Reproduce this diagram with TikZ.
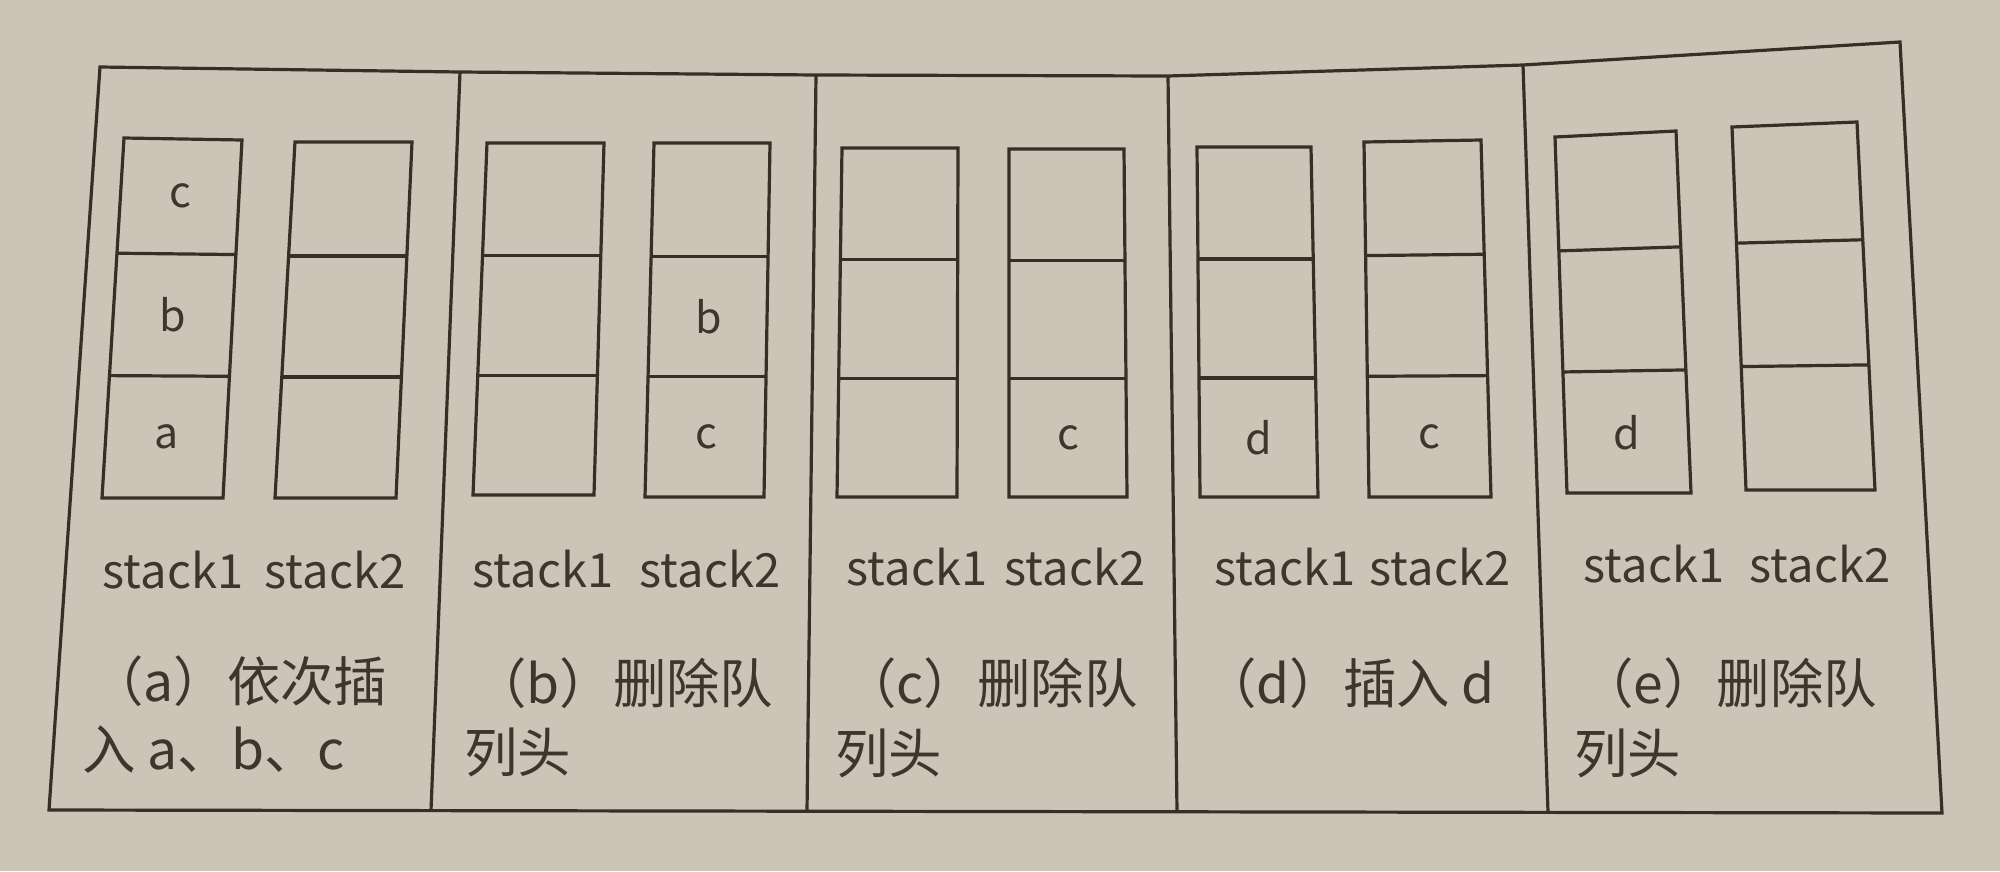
\documentclass[tikz,border=0pt]{standalone}
\usepackage{fontspec}
\usetikzlibrary{calc}
\newfontfamily\cjk{Noto Sans CJK SC}
\definecolor{paper}{RGB}{204,197,183}
\definecolor{ink}{RGB}{55,46,38}
\definecolor{txt}{RGB}{62,53,44}
\tikzset{
  frame/.style={draw=ink, line width=1.6mm, line join=miter},
  cell/.style={inner sep=0pt, text=txt, font=\cjk\fontsize{61}{61}\selectfont},
  lbl/.style={inner sep=0pt, text=txt, font=\cjk\fontsize{67}{67}\selectfont},
  captext/.style={inner sep=0pt, anchor=west, text=txt, font=\cjk\fontsize{76}{76}\selectfont},
}
\newcommand\qbox[5]{%
  \coordinate (#1-tl) at #2; \coordinate (#1-tr) at #3;
  \coordinate (#1-br) at #4; \coordinate (#1-bl) at #5;
  \coordinate (#1-l1) at ($(#1-tl)!0.32!(#1-bl)$);
  \coordinate (#1-r1) at ($(#1-tr)!0.32!(#1-br)$);
  \coordinate (#1-l2) at ($(#1-tl)!0.66!(#1-bl)$);
  \coordinate (#1-r2) at ($(#1-tr)!0.66!(#1-br)$);
  \draw[frame] (#1-tl) -- (#1-tr) -- (#1-br) -- (#1-bl) -- cycle;
  \draw[frame] (#1-l1) -- (#1-r1);
  \draw[frame] (#1-l2) -- (#1-r2);
  \coordinate (#1-c1) at ($(#1-tl)!0.5!(#1-r1)$);
  \coordinate (#1-c2) at ($(#1-l1)!0.5!(#1-r2)$);
  \coordinate (#1-c3) at ($(#1-l2)!0.5!(#1-br)$);
}
\begin{document}
\begin{tikzpicture}[x=0.5mm,y=-0.5mm]
\fill[paper] (0,0) rectangle (2000,871);
\useasboundingbox (0,0) rectangle (2000,871);

% outer frame
\coordinate (o-tl) at (100,67);
\coordinate (t1) at (460,72);
\coordinate (t2) at (816,75);
\coordinate (t3) at (1168,76);
\coordinate (t4) at (1523,65);
\coordinate (o-tr) at (1900,42);
\coordinate (o-br) at (1942,813);
\coordinate (o-bl) at (49,810);
\coordinate (b1) at (431,810.6);
\coordinate (b2) at (807,811.2);
\coordinate (b3) at (1177,811.8);
\coordinate (b4) at (1548,812.4);
\draw[frame] (o-tl) -- (t1) -- (t2) -- (t3) -- (t4) -- (o-tr) -- (o-br) -- (o-bl) -- cycle;
\draw[frame] (t1) -- (b1);
\draw[frame] (t2) -- (b2);
\draw[frame] (t3) -- (b3);
\draw[frame] (t4) -- (b4);

% stacks
\qbox{a1}{(124,138)}{(242,140)}{(223,498)}{(102,498)}
\qbox{a2}{(295,142)}{(412,142)}{(396,498)}{(275,498)}
\qbox{b1}{(487,143)}{(604,143)}{(594,495)}{(473,495)}
\qbox{b2}{(654,143)}{(770,143)}{(764,497)}{(645,497)}
\qbox{c1}{(842,148)}{(958,148)}{(957,497)}{(837,497)}
\qbox{c2}{(1009,149)}{(1124,149)}{(1127,497)}{(1009,497)}
\qbox{d1}{(1197,147)}{(1311,147)}{(1318,497)}{(1200,497)}
\qbox{d2}{(1364,142)}{(1481,140)}{(1491,497)}{(1369,497)}
\qbox{e1}{(1555,137)}{(1676,131)}{(1691,493)}{(1567,493)}
\qbox{e2}{(1732,127)}{(1857,122)}{(1875,490)}{(1746,490)}

% cell contents
\node[cell] (va1) at (a1-c1) {c};
\node[cell] (va2) at (a1-c2) {b};
\node[cell] (va3) at (a1-c3) {a};
\node[cell] (vb1) at (b2-c2) {b};
\node[cell] (vb2) at (b2-c3) {c};
\node[cell] (vc1) at (c2-c3) {c};
\node[cell] (vd1) at (d1-c3) {d};
\node[cell] (vd2) at (d2-c3) {c};
\node[cell] (ve1) at (e1-c3) {d};

% stack labels
\node[lbl] (la1) at (173,570) {stack1};
\node[lbl] (la2) at (335,570) {stack2};
\node[lbl] (lb1) at (543,569) {stack1};
\node[lbl] (lb2) at (710,569) {stack2};
\node[lbl] (lc1) at (917,567) {stack1};
\node[lbl] (lc2) at (1075,567) {stack2};
\node[lbl] (ld1) at (1285,567) {stack1};
\node[lbl] (ld2) at (1440,567) {stack2};
\node[lbl] (le1) at (1654,564) {stack1};
\node[lbl] (le2) at (1820,564) {stack2};

% captions
\node[captext] (ca1) at (90,681) {（a）依次插};
\node[captext] (ca2) at (82,750) {入 a、b、c};
\node[captext] (cb1) at (473,683) {（b）删除队};
\node[captext] (cb2) at (464,752) {列头};
\node[captext] (cc1) at (843,683) {（c）删除队};
\node[captext] (cc2) at (835,753) {列头};
\node[captext] (cd1) at (1203,683) {（d）插入 d};
\node[captext] (ce1) at (1580,683) {（e）删除队};
\node[captext] (ce2) at (1574,753) {列头};
\end{tikzpicture}
\end{document}
